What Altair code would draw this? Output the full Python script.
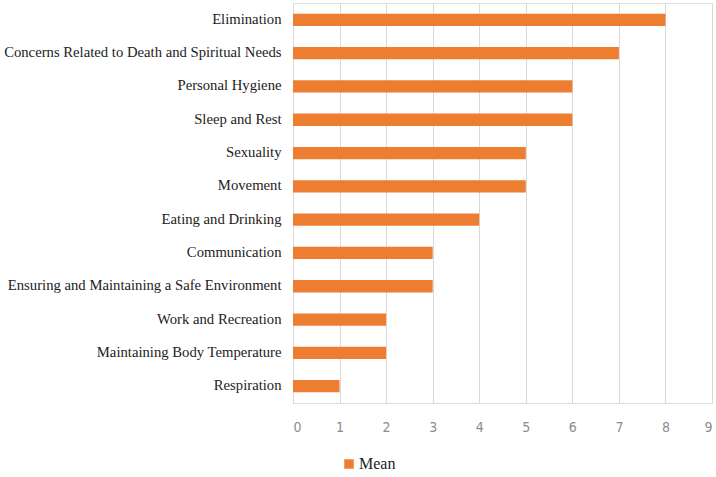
import altair as alt
import pandas as pd

categories = [
    "Elimination",
    "Concerns Related to Death and Spiritual Needs",
    "Personal Hygiene",
    "Sleep and Rest",
    "Sexuality",
    "Movement",
    "Eating and Drinking",
    "Communication",
    "Ensuring and Maintaining a Safe Environment",
    "Work and Recreation",
    "Maintaining Body Temperature",
    "Respiration",
]
values = [8, 7, 6, 6, 5, 5, 4, 3, 3, 2, 2, 1]
series = ["Mean"] * len(categories)
x_ticks = list(range(0, 10))

df = pd.DataFrame({"category": categories, "value": values, "series": series})

chart = alt.Chart(df).mark_bar(color="#ED7D31").encode(
    x=alt.X(
        "value:Q",
        scale=alt.Scale(domain=[0, 9], nice=False),
        axis=alt.Axis(
            values=x_ticks,
            title=None,
            grid=True,
            gridColor="#d9d9d9",
            domain=False,
            ticks=False,
            labelColor="#8c8c8c",
            labelFont="'DejaVu Sans Condensed', 'Open Sans', sans-serif",
            labelFontSize=14,
            labelPadding=17,
        ),
    ),
    y=alt.Y(
        "category:N",
        sort=categories,
        scale=alt.Scale(paddingInner=0.63, paddingOuter=0.32),
        axis=alt.Axis(
            title=None,
            domain=False,
            ticks=False,
            labelColor="#222222",
            labelFont="Liberation Serif",
            labelFontSize=14.7,
            labelPadding=12,
            labelLimit=400,
        ),
    ),
    color=alt.Color(
        "series:N",
        scale=alt.Scale(domain=["Mean"], range=["#ED7D31"]),
        legend=alt.Legend(
            title=None,
            orient="none",
            legendX=48,
            legendY=453,
            symbolType="square",
            symbolSize=90,
            symbolStrokeWidth=0,
            labelFont="Liberation Serif",
            labelFontSize=16,
            labelColor="#222222",
            labelOffset=2,
        ),
    ),
).properties(
    width=419,
    height=400,
    autosize=alt.AutoSizeParams(type="none"),
    padding={"left": 293, "top": 3, "right": 4, "bottom": 74},
).configure_view(stroke=None).configure(background="white")

chart.save("out.html", embed_options={"renderer": "svg", "actions": False})
